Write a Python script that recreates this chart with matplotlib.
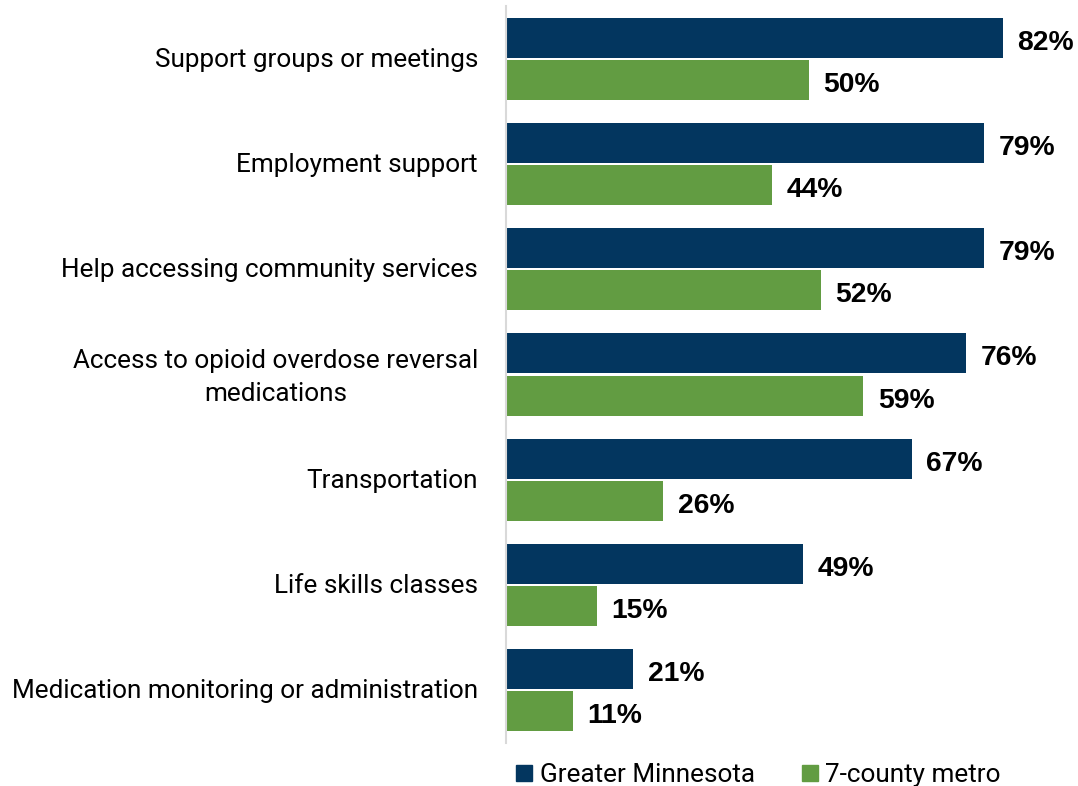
import matplotlib
matplotlib.use("Agg")
import matplotlib.pyplot as plt
from matplotlib.lines import Line2D
from matplotlib.transforms import offset_copy

categories = [
    "Support groups or meetings",
    "Employment support",
    "Help accessing community services",
    "Access to opioid overdose reversal\nmedications",
    "Transportation",
    "Life skills classes",
    "Medication monitoring or administration",
]
greater_mn = [82, 79, 79, 76, 67, 49, 21]
metro = [50, 44, 52, 59, 26, 15, 11]
series_names = ["Greater Minnesota", "7-county metro"]

NAVY = "#03365F"
GREEN = "#629C42"
label_font = "Roboto"

fig = plt.figure(figsize=(10.78, 7.86), dpi=100)
ax = fig.add_axes([506 / 1078, 1 - 742.6 / 786, 545 / 1078, 736.2 / 786])

ys = list(range(len(categories)))
h = 0.38
off = 0.2
ax.barh([y - off for y in ys], greater_mn, height=h, color=NAVY)
ax.barh([y + off for y in ys], metro, height=h, color=GREEN)

value_offset = offset_copy(ax.transData, fig=fig, x=0, y=-2, units="dots")
for y, v in zip(ys, greater_mn):
    ax.text(v + 2.4, y - off, f"{v}%", va="center_baseline", ha="left",
            fontsize=20.3, fontweight="bold", family="Liberation Sans",
            transform=value_offset)
for y, v in zip(ys, metro):
    ax.text(v + 2.4, y + off, f"{v}%", va="center_baseline", ha="left",
            fontsize=20.3, fontweight="bold", family="Liberation Sans",
            transform=value_offset)

ax.set_xlim(0, 90)
ax.set_ylim(len(categories) - 0.5, -0.5)
ax.set_yticks(ys)
ax.set_yticklabels(categories, fontsize=18.8, family=label_font)
ax.tick_params(axis="y", length=0, pad=0)
ax.set_xticks([])
for s in ["top", "right", "bottom"]:
    ax.spines[s].set_visible(False)
ax.spines["left"].set_color("#D9D9D9")
ax.spines["left"].set_linewidth(1.5)

# Category labels: right-aligned block, lines centred within it
for lbl in ax.get_yticklabels():
    multi = "\n" in lbl.get_text()
    lbl.set_ha("right")
    lbl.set_multialignment("center")
    lbl.set_linespacing(1.48)
    lbl.set_transform(offset_copy(lbl.get_transform(), fig=fig, x=-28,
                                  y=(4 if multi else 1.5), units="dots"))

handles = [
    Line2D([], [], marker="s", linestyle="none", color=NAVY, markersize=11),
    Line2D([], [], marker="s", linestyle="none", color=GREEN, markersize=11),
]
fig.legend(handles, series_names, loc="center", bbox_to_anchor=(756 / 1078, 1 - 775 / 786),
           ncol=2, frameon=False, prop={"family": label_font, "size": 18.8},
           handletextpad=0.1, columnspacing=1.6, handlelength=1.0)

fig.savefig("out.png", dpi=100)
